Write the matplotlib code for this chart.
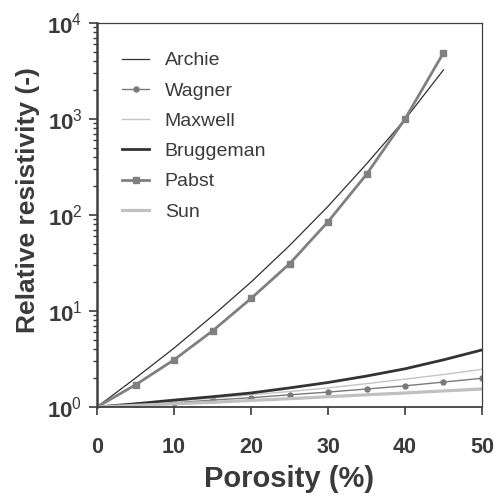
import matplotlib
matplotlib.use("Agg")
import matplotlib.pyplot as plt
from matplotlib.ticker import FixedLocator, FixedFormatter, LogLocator, NullFormatter

plt.rcParams['font.family'] = ['Liberation Sans', 'DejaVu Sans']
plt.rcParams['mathtext.fontset'] = 'custom'
plt.rcParams['mathtext.rm'] = 'Liberation Sans'
plt.rcParams['mathtext.bf'] = 'Liberation Sans:bold'

# Porosity (%)
p_main = [0, 5, 10, 15, 20, 25, 30, 35, 40, 45]
p_full = [0, 5, 10, 15, 20, 25, 30, 35, 40, 45, 50]

archie = [1, 2.0, 4.1, 8.9, 20, 48, 123, 340, 990, 3250]
pabst = [1, 1.7, 3.1, 6.2, 13.5, 31, 85, 265, 1000, 4900]
wagner = [1, 1.05, 1.11, 1.18, 1.25, 1.34, 1.43, 1.54, 1.66, 1.82, 1.99]
maxwell = [1, 1.07, 1.15, 1.24, 1.34, 1.45, 1.58, 1.75, 1.95, 2.18, 2.47]
bruggeman = [1, 1.08, 1.18, 1.28, 1.40, 1.58, 1.80, 2.10, 2.50, 3.10, 3.93]
sun = [1, 1.04, 1.08, 1.12, 1.17, 1.22, 1.28, 1.34, 1.40, 1.47, 1.54]

xticks = [0, 10, 20, 30, 40, 50]
yticks = [1, 10, 100, 1000, 10000]
ytick_labels = [r'$\mathbf{10}^{0}$', r'$\mathbf{10}^{1}$', r'$\mathbf{10}^{2}$',
                r'$\mathbf{10}^{3}$', r'$\mathbf{10}^{4}$']

TXT = '#3a3a3a'

fig = plt.figure(figsize=(4.97, 4.98), dpi=100)
ax = fig.add_axes([97/497, 1-407/498, 385/497, 384/498])

ax.plot(p_main, archie, color='#303030', lw=0.9, label='Archie')
ax.plot(p_full, wagner, color='#7a7a7a', lw=1.0, marker='o', ms=3.6, label='Wagner')
ax.plot(p_full, maxwell, color='#c4c4c4', lw=1.0, label='Maxwell')
ax.plot(p_full, bruggeman, color='#333333', lw=2.0, label='Bruggeman')
ax.plot(p_main, pabst, color='#808080', lw=2.0, marker='s', ms=3.8, label='Pabst')
ax.plot(p_full, sun, color='#c0c0c0', lw=2.3, label='Sun')

ax.set_yscale('log')
ax.set_xlim(0, 50)
ax.set_ylim(1, 10000)

ax.xaxis.set_major_locator(FixedLocator(xticks))
ax.set_xticklabels([str(v) for v in xticks])
ax.yaxis.set_major_locator(FixedLocator(yticks))
ax.yaxis.set_major_formatter(FixedFormatter(ytick_labels))
ax.yaxis.set_minor_locator(LogLocator(base=10, subs=range(2, 10)))
ax.yaxis.set_minor_formatter(NullFormatter())

ax.tick_params(axis='x', which='major', direction='out', length=5.5, width=1.2,
               color=TXT, labelsize=15.5, labelcolor=TXT, pad=16)
ax.tick_params(axis='y', which='major', direction='out', length=5.5, width=1.2,
               color=TXT, labelsize=16, labelcolor=TXT, pad=5)
ax.tick_params(axis='y', which='minor', direction='out', length=3, width=1.0, color=TXT)
for lab in ax.get_xticklabels():
    lab.set_fontweight('bold')

ax.spines['left'].set_linewidth(1.8)
ax.spines['bottom'].set_linewidth(1.3)
ax.spines['top'].set_linewidth(0.9)
ax.spines['right'].set_linewidth(0.9)
for s in ax.spines.values():
    s.set_color('#404040')

ax.set_xlabel('Porosity (%)', fontsize=21, fontweight='bold', color=TXT, labelpad=5)
ax.set_ylabel('Relative resistivity (-)', fontsize=19, fontweight='bold', color=TXT, labelpad=5)
ax.yaxis.label.set_y(0.54)

leg = ax.legend(loc='upper left', bbox_to_anchor=(0.065, 0.925), frameon=False,
                fontsize=14, handlelength=1.4, handletextpad=0.8,
                labelspacing=0.65, borderpad=0, borderaxespad=0, numpoints=1)
for t in leg.get_texts():
    t.set_color(TXT)

fig.savefig('out.png', dpi=100)
